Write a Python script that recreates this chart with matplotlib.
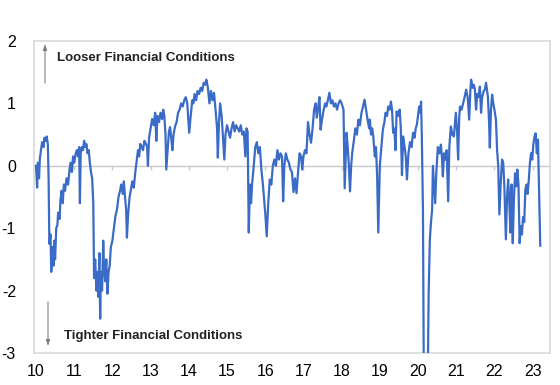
import matplotlib
matplotlib.use("Agg")
import matplotlib.pyplot as plt
import numpy as np

plt.rcParams['font.family'] = ['Liberation Sans', 'DejaVu Sans']

# ---- data (decimal year, index value) ----
years = [
 2010.0,2010.03,2010.05,2010.08,2010.1,2010.13,2010.16,2010.2,2010.22,2010.25,2010.28,2010.31,
 2010.33,2010.35,2010.38,2010.4,2010.43,2010.46,2010.48,2010.5,2010.53,2010.56,2010.58,2010.62,
 2010.64,2010.67,2010.7,2010.73,2010.76,2010.8,2010.84,2010.88,2010.91,2010.94,2010.97,
 2011.0,2011.04,2011.07,2011.1,2011.13,2011.15,2011.17,2011.2,2011.23,2011.26,2011.29,2011.32,
 2011.35,2011.38,2011.41,2011.44,2011.47,2011.5,2011.52,2011.55,2011.58,2011.6,2011.63,2011.66,
 2011.68,2011.7,2011.73,2011.76,2011.78,2011.81,2011.84,2011.87,2011.9,2011.93,2011.96,
 2012.0,2012.04,2012.08,2012.12,2012.16,2012.2,2012.23,2012.27,2012.3,2012.33,2012.36,2012.38,
 2012.41,2012.45,2012.48,2012.52,2012.56,2012.6,2012.63,2012.67,2012.7,2012.73,2012.77,2012.8,
 2012.84,2012.88,2012.91,2012.93,2012.96,
 2013.0,2013.04,2013.08,2013.12,2013.15,2013.18,2013.22,2013.26,2013.3,2013.33,2013.36,2013.39,
 2013.41,2013.45,2013.48,2013.51,2013.54,2013.57,2013.6,2013.64,2013.68,2013.72,2013.76,2013.8,
 2013.84,2013.88,2013.92,2013.96,
 2014.01,2014.05,2014.09,2014.12,2014.15,2014.19,2014.23,2014.27,2014.31,2014.35,2014.39,2014.43,
 2014.46,2014.5,2014.54,2014.58,2014.62,2014.66,2014.7,2014.74,2014.76,2014.79,2014.82,2014.86,
 2014.9,2014.93,2014.96,
 2015.0,2015.04,2015.08,2015.12,2015.16,2015.2,2015.24,2015.28,2015.32,2015.36,2015.4,2015.44,
 2015.48,2015.51,2015.54,2015.57,2015.6,2015.63,2015.66,2015.7,2015.74,2015.78,2015.82,2015.86,
 2015.9,2015.94,
 2016.0,2016.04,2016.08,2016.12,2016.16,2016.2,2016.24,2016.28,2016.32,2016.36,2016.4,2016.44,
 2016.47,2016.5,2016.54,2016.58,2016.62,2016.66,2016.7,2016.74,2016.78,2016.82,2016.86,2016.9,
 2016.94,2016.97,
 2017.0,2017.04,2017.08,2017.12,2017.16,2017.2,2017.24,2017.28,2017.32,2017.35,2017.39,2017.42,
 2017.45,2017.49,2017.53,2017.57,2017.6,2017.64,2017.68,2017.72,2017.76,2017.8,2017.84,2017.88,
 2017.92,2017.96,
 2018.0,2018.05,2018.08,2018.11,2018.13,2018.16,2018.19,2018.22,2018.25,2018.28,2018.32,2018.36,
 2018.4,2018.44,2018.48,2018.52,2018.56,2018.6,2018.64,2018.68,2018.72,2018.74,2018.77,2018.8,
 2018.83,2018.87,2018.9,2018.93,2018.96,
 2019.0,2019.04,2019.08,2019.12,2019.15,2019.19,2019.22,2019.26,2019.29,2019.32,2019.35,2019.38,
 2019.41,2019.44,2019.48,2019.52,2019.55,2019.58,2019.61,2019.65,2019.68,2019.71,2019.75,2019.79,
 2019.83,2019.87,2019.91,2019.94,2019.97,
 2020.0,2020.03,2020.06,2020.08,2020.1,2020.13,2020.16,2020.2,2020.24,2020.28,2020.31,2020.34,
 2020.37,2020.39,2020.42,2020.45,2020.48,2020.52,2020.56,2020.6,2020.63,2020.65,2020.68,2020.71,
 2020.75,2020.79,2020.82,2020.86,2020.9,2020.94,2020.97,2020.99,
 2021.02,2021.05,2021.08,2021.1,2021.14,2021.18,2021.22,2021.26,2021.3,2021.34,2021.37,2021.39,
 2021.43,2021.46,2021.49,2021.52,2021.55,2021.58,2021.62,2021.65,2021.68,2021.72,2021.75,2021.78,
 2021.81,2021.83,2021.86,2021.88,2021.91,2021.94,2021.97,
 2022.0,2022.04,2022.07,2022.1,2022.13,2022.17,2022.2,2022.23,2022.26,2022.3,2022.33,2022.36,
 2022.39,2022.42,2022.45,2022.48,2022.51,2022.54,2022.57,2022.6,2022.63,2022.66,2022.69,2022.72,
 2022.75,2022.78,2022.81,2022.84,2022.87,2022.9,2022.93,2022.96,2022.99,
 2023.02,2023.05,2023.08,2023.11,2023.14,2023.17,2023.2,
]
values = [
 0.0,-0.35,0.05,-0.2,0.1,0.25,0.38,0.3,0.45,0.4,0.47,0.35,
 -0.2,-1.25,-1.1,-1.7,-1.3,-1.6,-1.2,-1.5,-1.0,-0.95,-0.75,-0.85,
 -0.55,-0.4,-0.6,-0.3,-0.4,-0.2,-0.3,-0.05,0.05,-0.1,0.15,
 0.05,0.2,0.25,0.15,0.3,-0.6,0.2,0.3,0.25,0.4,0.3,0.35,
 0.2,0.25,0.05,-0.1,-0.2,-0.6,-1.8,-1.5,-2.0,-1.7,-2.1,-1.4,
 -2.45,-1.7,-2.0,-1.2,-1.6,-1.85,-1.5,-2.05,-1.7,-1.6,-1.3,
 -1.2,-1.0,-0.8,-0.7,-0.5,-0.4,-0.3,-0.45,-0.25,-0.5,-0.7,-1.15,
 -0.8,-0.5,-0.4,-0.25,-0.35,-0.1,0.05,0.25,0.15,0.35,0.3,0.25,
 0.4,0.35,0.3,0.0,0.45,
 0.6,0.75,0.65,0.85,0.4,0.8,0.7,0.85,0.75,0.9,0.8,0.5,
 -0.06,0.3,0.55,0.62,0.45,0.25,0.5,0.63,0.7,0.85,0.9,1.0,
 0.95,1.05,1.1,1.0,
 0.53,0.8,1.05,1.0,1.15,1.05,1.2,1.15,1.25,1.2,1.33,1.3,
 1.38,1.25,1.0,1.2,1.05,1.17,0.9,0.6,0.13,0.7,1.0,0.8,
 0.4,0.1,0.5,
 0.65,0.55,0.45,0.6,0.7,0.55,0.65,0.6,0.55,0.65,0.5,0.55,
 0.15,0.6,0.55,-1.07,-0.3,-0.6,-0.27,0.0,0.3,0.38,0.2,0.3,
 -0.06,-0.3,
 -0.75,-1.13,-0.6,-0.22,-0.3,0.0,0.1,0.0,0.25,0.1,0.2,0.15,
 -0.57,0.0,0.2,0.1,0.05,-0.06,-0.1,-0.42,-0.2,-0.44,-0.1,0.2,
 0.15,-0.06,
 0.15,0.25,0.2,0.7,0.5,0.37,0.6,0.9,1.0,0.77,0.95,1.1,
 0.58,0.75,0.9,1.0,0.95,1.05,1.17,1.0,1.05,0.95,1.0,0.9,
 1.0,1.05,
 1.0,0.9,-0.36,0.2,0.53,0.3,0.0,-0.41,0.0,0.22,0.4,0.6,
 0.5,0.74,0.65,0.85,0.95,1.06,0.9,0.74,0.6,0.74,0.5,0.6,
 0.47,0.15,0.3,-0.17,-1.07,
 0.0,0.3,0.58,0.7,0.85,0.8,0.95,0.9,1.03,0.9,0.53,0.6,
 0.25,0.87,0.8,0.9,0.6,-0.15,0.47,0.3,0.15,-0.22,0.2,0.38,
 0.3,0.53,0.45,0.6,0.66,
 0.8,0.95,0.85,1.03,0.47,-0.75,-4.5,-5.0,-4.2,-2.0,-1.18,-0.9,
 -0.7,0.0,-0.3,-0.6,-0.1,0.3,0.2,0.34,0.1,-0.17,0.2,0.1,
 0.25,-0.57,0.3,0.63,0.5,0.47,0.7,0.85,
 0.6,0.1,0.8,0.95,0.9,1.0,1.1,1.22,1.1,0.74,1.2,1.38,
 1.25,1.3,1.22,0.9,1.15,1.1,1.27,0.85,1.1,1.2,1.22,1.33,
 1.2,1.1,0.7,0.29,0.9,1.14,1.0,
 0.9,0.74,0.25,0.0,-0.78,-0.22,0.1,0.05,-0.33,-1.18,-0.5,-0.22,
 -0.6,-1.07,-0.3,-1.24,-0.55,-0.12,-0.33,-0.06,-0.3,-1.24,-0.97,-1.1,
 -0.82,-0.9,-0.38,-0.3,-0.45,-0.22,0.05,0.2,0.1,
 0.35,0.47,0.52,0.2,0.42,-0.4,-1.28,
]

year_ticks = list(range(2010, 2024))
year_labels = [str(y % 100) for y in year_ticks]
y_ticks = [-3, -2, -1, 0, 1, 2]

grey = '#d9d9d9'
fig = plt.figure(figsize=(5.6, 3.85), dpi=100)
ax = fig.add_axes([34/560, 1-353/385, 516/560, 312/385])

# zero line with small year ticks
ax.axhline(0, color='#c8c8c8', lw=1.0, zorder=1)
ax.vlines(year_ticks[1:], -0.06, 0, color='#c8c8c8', lw=1.0, zorder=1)

ax.plot(years, values, color='#3a6bc6', lw=1.6, solid_joinstyle='round', zorder=3)
ax.set_xlim(2009.948, 2023.455)
ax.set_ylim(-3, 2)

for s in ax.spines.values():
    s.set_color(grey)
    s.set_linewidth(1.2)

ax.set_yticks(y_ticks)
ax.set_yticklabels([str(v) for v in y_ticks])
ax.set_xticks(year_ticks)
ax.set_xticklabels(year_labels)
ax.tick_params(axis='both', length=0, labelsize=11.5, colors='black')
ax.tick_params(axis='y', pad=13)
ax.tick_params(axis='x', pad=8)

# annotations
ax.annotate('', xy=(45/560, 1-44/385), xytext=(45/560, 1-83/385),
            xycoords='figure fraction', textcoords='figure fraction',
            arrowprops=dict(arrowstyle='-|>,head_length=0.35,head_width=0.12',
                            color='#808080', lw=0.8, shrinkA=0, shrinkB=0))
ax.annotate('', xy=(48/560, 1-346/385), xytext=(48/560, 1-302/385),
            xycoords='figure fraction', textcoords='figure fraction',
            arrowprops=dict(arrowstyle='-|>,head_length=0.35,head_width=0.12',
                            color='#808080', lw=0.8, shrinkA=0, shrinkB=0))
fig.text(57/560, 1-58/385, 'Looser Financial Conditions', fontsize=9.5,
         fontweight='bold', color='#222222', va='center', ha='left')
fig.text(64/560, 1-336/385, 'Tighter Financial Conditions', fontsize=9.5,
         fontweight='bold', color='#222222', va='center', ha='left')

fig.savefig('out.png', dpi=100)
